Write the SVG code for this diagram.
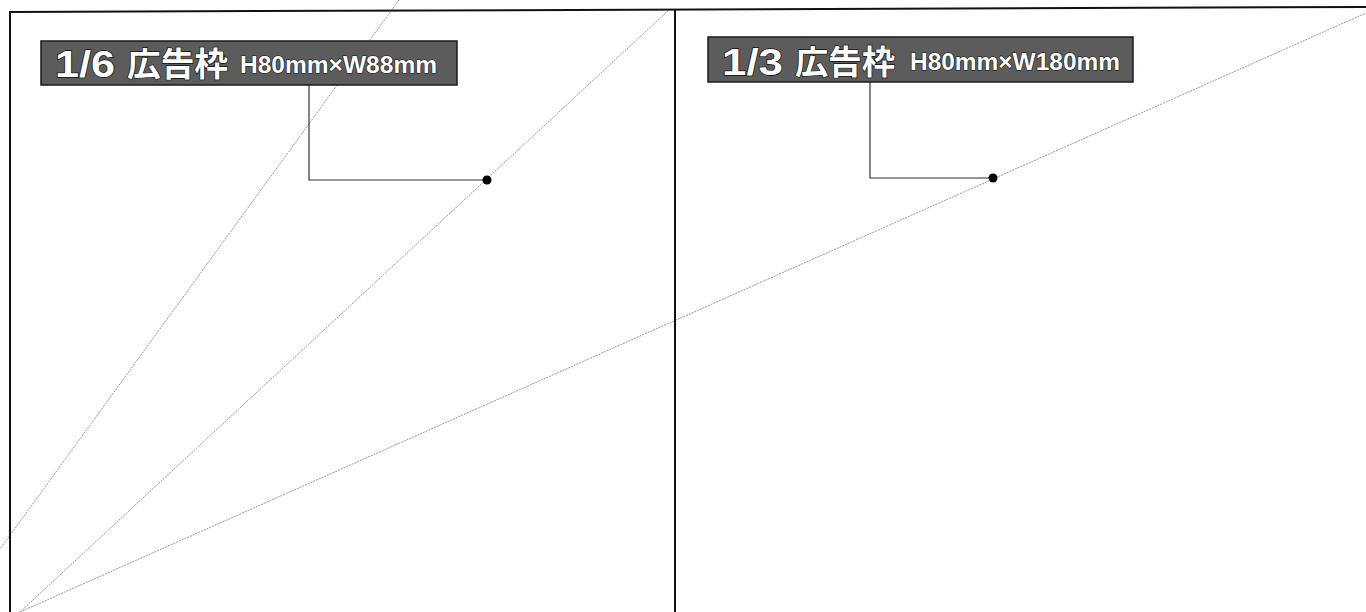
<svg xmlns="http://www.w3.org/2000/svg" width="1366" height="612" viewBox="0 0 1366 612">
<style>
.frame{stroke:#111;stroke-width:2;fill:none}
.guide{stroke:#8a8a8a;stroke-width:0.9;stroke-dasharray:2 1;fill:none}
.box{fill:#5c5c5c;stroke:#1a1a1a;stroke-width:1.5}
.lead{stroke:#333;stroke-width:1.2;fill:none}
.big{font-family:"Liberation Sans","Noto Sans CJK JP",sans-serif;font-weight:bold;font-size:37px;fill:#fff;stroke:#111;stroke-width:1.4;paint-order:stroke}
.cjk{font-family:"Noto Sans CJK JP","Liberation Sans",sans-serif;font-weight:bold;font-size:33px;fill:#fff;stroke:#111;stroke-width:1.4;paint-order:stroke}
.small{font-family:"Liberation Sans",sans-serif;font-weight:bold;font-size:24px;fill:#fff;stroke:#111;stroke-width:1.2;paint-order:stroke}
</style>
<rect width="1366" height="612" fill="#fff"/>
<g id="guides">
<line class="guide" x1="399" y1="0" x2="0" y2="549"/>
<line class="guide" x1="20" y1="612" x2="671" y2="8"/>
<line class="guide" x1="20" y1="612" x2="1366" y2="13"/>
</g>
<g id="frame">
<line class="frame" x1="10" y1="12" x2="1366" y2="7"/>
<line class="frame" x1="10" y1="11" x2="10" y2="612"/>
<line class="frame" x1="675" y1="10" x2="675" y2="612"/>
</g>
<g id="connectors">
<polyline class="lead" points="309,85 309,180 487,180"/>
<polyline class="lead" points="870,82 870,178 993,178"/>
<circle cx="487" cy="180" r="4.5" fill="#000"/>
<circle cx="993" cy="178" r="4.5" fill="#000"/>
</g>
<g id="label-1-6">
<rect class="box" x="41" y="41" width="416" height="44"/>
<text class="big" x="55" y="77" textLength="60" lengthAdjust="spacingAndGlyphs">1/6</text>
<text class="cjk" x="127" y="76" textLength="101" lengthAdjust="spacingAndGlyphs">広告枠</text>
<text class="small" x="240" y="73" textLength="197" lengthAdjust="spacingAndGlyphs">H80mm×W88mm</text>
</g>
<g id="label-1-3">
<rect class="box" x="708" y="37" width="425" height="45"/>
<text class="big" x="722" y="75" textLength="61" lengthAdjust="spacingAndGlyphs">1/3</text>
<text class="cjk" x="795" y="74" textLength="100" lengthAdjust="spacingAndGlyphs">広告枠</text>
<text class="small" x="910" y="70" textLength="210" lengthAdjust="spacingAndGlyphs">H80mm×W180mm</text>
</g>
</svg>
